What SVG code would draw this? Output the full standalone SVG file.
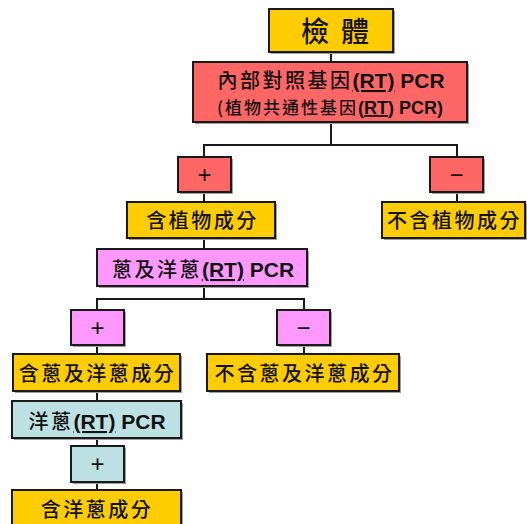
<svg xmlns="http://www.w3.org/2000/svg" width="527" height="524" viewBox="0 0 527 524">
<style>
.box{stroke:#1a1a1a;stroke-width:2}
.sh{fill:#a0a0a0}
.y{fill:#FFCC00}.r{fill:#FF6666}.p{fill:#FF99FF}.t{fill:#BDE0E2}
.zh{font-family:"Noto Sans CJK TC","Noto Sans CJK SC",sans-serif;font-size:20px;font-weight:500;letter-spacing:2.5px;fill:#111;text-anchor:middle}
.la{font-family:"Liberation Sans",Arial,sans-serif;font-weight:bold;letter-spacing:0}
.sym{font-family:"Liberation Sans",Arial,sans-serif;font-size:24px;fill:#111;text-anchor:middle}
.u{text-decoration:underline}
#conn path{fill:none;stroke:#1a1a1a;stroke-width:2}
</style>
<g id="conn">
<path d="M331 52V62"/>
<path d="M331 122V145M204 157V145H457V157"/>
<path d="M204 192V202M457 192V202"/>
<path d="M204 238V249"/>
<path d="M204 286V299M97 310V299H304V310"/>
<path d="M97 345V354M304 345V354"/>
<path d="M97 391V401M97 438V446M97 482V490"/>
</g>
<g id="n1"><rect class="sh" x="271" y="11" width="124" height="43"/><rect class="box y" x="269" y="9" width="124" height="43"/>
<text class="zh" x="341" y="42" style="font-size:28px;letter-spacing:12px">檢體</text></g>
<g id="n2"><rect class="sh" x="195" y="64" width="274" height="60"/><rect class="box r" x="193" y="62" width="274" height="60"/>
<text class="zh" x="331" y="88" style="font-size:20px">內部對照基因<tspan class="la" style="font-size:21px"><tspan class="u">(RT)</tspan> PCR</tspan></text>
<text class="zh" x="330" y="114" style="font-size:17px;letter-spacing:2px">(植物共通性基因<tspan class="la" style="font-size:18px">(<tspan class="u">RT</tspan>) PCR)</tspan></text></g>
<g id="n3"><rect class="sh" x="180" y="159" width="53" height="35"/><rect class="box r" x="178" y="157" width="53" height="35"/><text class="sym" x="204.5" y="183">+</text></g>
<g id="n4"><rect class="sh" x="432" y="159" width="53" height="35"/><rect class="box r" x="430" y="157" width="53" height="35"/><text class="sym" x="456.5" y="183">−</text></g>
<g id="n5"><rect class="sh" x="129" y="204" width="148" height="36"/><rect class="box y" x="127" y="202" width="148" height="36"/><text class="zh" x="202.5" y="228">含植物成分</text></g>
<g id="n6"><rect class="sh" x="384" y="204" width="145" height="36"/><rect class="box y" x="382" y="202" width="143" height="36"/><text class="zh" x="454.5" y="228">不含植物成分</text></g>
<g id="n7"><rect class="sh" x="99" y="251" width="210" height="37"/><rect class="box p" x="97" y="249" width="210" height="37"/>
<text class="zh" x="203" y="277">蔥及洋蔥<tspan class="la" style="font-size:21px"><tspan class="u">(RT)</tspan> PCR</tspan></text></g>
<g id="n8"><rect class="sh" x="73" y="312" width="53" height="35"/><rect class="box p" x="71" y="310" width="53" height="35"/><text class="sym" x="97.5" y="336">+</text></g>
<g id="n9"><rect class="sh" x="279" y="312" width="53" height="35"/><rect class="box p" x="277" y="310" width="53" height="35"/><text class="sym" x="303.5" y="336">−</text></g>
<g id="n10"><rect class="sh" x="15" y="356" width="167" height="37"/><rect class="box y" x="13" y="354" width="167" height="37"/><text class="zh" x="97.5" y="381">含蔥及洋蔥成分</text></g>
<g id="n11"><rect class="sh" x="209" y="356" width="192" height="37"/><rect class="box y" x="207" y="354" width="192" height="37"/><text class="zh" x="304.5" y="381">不含蔥及洋蔥成分</text></g>
<g id="n12"><rect class="sh" x="14" y="403" width="169" height="37"/><rect class="box t" x="12" y="401" width="169" height="37"/>
<text class="zh" x="97" y="429">洋蔥<tspan class="la" style="font-size:21px"><tspan class="u">(RT)</tspan> PCR</tspan></text></g>
<g id="n13"><rect class="sh" x="73" y="448" width="53" height="36"/><rect class="box t" x="71" y="446" width="53" height="36"/><text class="sym" x="97.5" y="472">+</text></g>
<g id="n14"><rect class="sh" x="14" y="492" width="169" height="40"/><rect class="box y" x="12" y="490" width="169" height="40"/><text class="zh" x="97" y="517">含洋蔥成分</text></g>
</svg>
